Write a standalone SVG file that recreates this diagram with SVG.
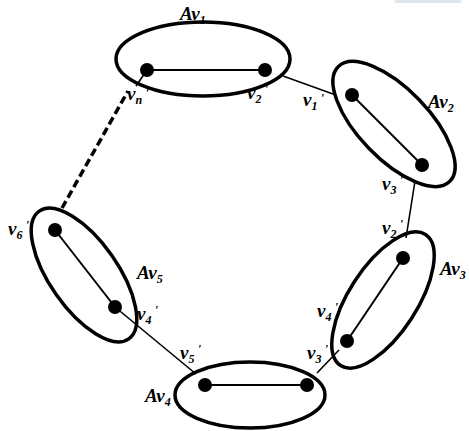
<svg xmlns="http://www.w3.org/2000/svg" width="469" height="431" viewBox="0 0 469 431">
<style>
.ell{fill:none;stroke:#000;stroke-width:3.5}
.in{stroke:#000;stroke-width:2}
.edge{stroke:#000;stroke-width:1.6}
.dot{fill:#000}
.lb{font-family:"Liberation Serif","DejaVu Serif",serif;font-style:italic;font-weight:bold;font-size:19px;fill:#000}
.sb{font-size:12px}
.pr{font-size:13px}
</style>
<rect width="469" height="431" fill="#fff"/>
<rect x="395" y="0" width="66" height="3" fill="#dfe5ec"/>
<g id="connectors">
<line class="edge" x1="283" y1="76" x2="333" y2="94"/>
<line class="edge" x1="415" y1="181" x2="406" y2="238"/>
<line class="edge" x1="317" y1="373" x2="339" y2="350"/>
<line class="edge" x1="115" y1="307" x2="196" y2="374"/>
<line class="edge" x1="147" y1="70" x2="136" y2="86"/>
<line x1="62" y1="208" x2="128" y2="91" stroke="#000" stroke-width="3.5" stroke-dasharray="8,4"/>
</g>
<g id="Av1">
<ellipse class="ell" cx="203" cy="59" rx="87" ry="37"/>
<line class="in" x1="147" y1="70" x2="265" y2="70"/>
<circle class="dot" cx="147" cy="70" r="7"/>
<circle class="dot" cx="265" cy="70" r="7"/>
<text class="lb" x="180" y="20">Av<tspan class="sb" dy="4">1</tspan></text>
<text class="lb" x="127" y="100">v<tspan class="sb" dy="4">n</tspan><tspan class="pr" dx="3" dy="-7">'</tspan></text>
<text class="lb" x="247" y="99">v<tspan class="sb" dy="4">2</tspan><tspan class="pr" dx="3" dy="-10">'</tspan></text>
</g>
<g id="Av2">
<ellipse class="ell" cx="0" cy="0" rx="80" ry="35" transform="translate(394,124) rotate(46)"/>
<line class="in" x1="352" y1="95" x2="422" y2="165"/>
<circle class="dot" cx="352" cy="95" r="7"/>
<circle class="dot" cx="422" cy="165" r="7"/>
<text class="lb" x="428" y="108">Av<tspan class="sb" dy="4">2</tspan></text>
<text class="lb" x="303" y="106">v<tspan class="sb" dy="4">1</tspan><tspan class="pr" dx="3" dy="-8">'</tspan></text>
<text class="lb" x="382" y="190">v<tspan class="sb" dy="4">3</tspan><tspan class="pr" dx="3" dy="-10">'</tspan></text>
</g>
<g id="Av3">
<ellipse class="ell" cx="0" cy="0" rx="78" ry="34" transform="translate(383,300) rotate(-57)"/>
<line class="in" x1="403" y1="258" x2="347" y2="341"/>
<circle class="dot" cx="403" cy="258" r="7"/>
<circle class="dot" cx="347" cy="341" r="7"/>
<text class="lb" x="440" y="275">Av<tspan class="sb" dy="4">3</tspan></text>
<text class="lb" x="382" y="234">v<tspan class="sb" dy="4">2</tspan><tspan class="pr" dx="3" dy="-10">'</tspan></text>
<text class="lb" x="317" y="317">v<tspan class="sb" dy="4">4</tspan><tspan class="pr" dx="3" dy="-10">'</tspan></text>
</g>
<g id="Av4">
<ellipse class="ell" cx="250" cy="395" rx="75" ry="33"/>
<line class="in" x1="205" y1="385" x2="307" y2="385"/>
<circle class="dot" cx="205" cy="385" r="7"/>
<circle class="dot" cx="307" cy="385" r="7"/>
<text class="lb" x="145" y="402">Av<tspan class="sb" dy="4">4</tspan></text>
<text class="lb" x="307" y="359">v<tspan class="sb" dy="4">3</tspan><tspan class="pr" dx="3" dy="-10">'</tspan></text>
<text class="lb" x="180" y="359">v<tspan class="sb" dy="4">5</tspan><tspan class="pr" dx="3" dy="-10">'</tspan></text>
</g>
<g id="Av5">
<ellipse class="ell" cx="0" cy="0" rx="78" ry="34" transform="translate(84,275) rotate(55)"/>
<line class="in" x1="55" y1="230" x2="115" y2="307"/>
<circle class="dot" cx="55" cy="230" r="7"/>
<circle class="dot" cx="115" cy="307" r="7"/>
<text class="lb" x="137" y="279">Av<tspan class="sb" dy="4">5</tspan></text>
<text class="lb" x="137" y="320">v<tspan class="sb" dy="4">4</tspan><tspan class="pr" dx="3" dy="-10">'</tspan></text>
<text class="lb" x="8" y="235">v<tspan class="sb" dy="4">6</tspan><tspan class="pr" dx="3" dy="-10">'</tspan></text>
</g>
</svg>
